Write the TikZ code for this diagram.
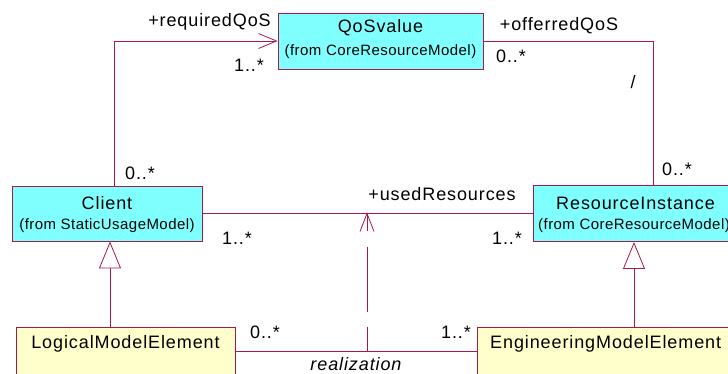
\documentclass[tikz,border=0pt]{standalone}
\usepackage{fontspec}
\setmainfont{Liberation Sans}
\newfontfamily\bigf[LetterSpace=5]{Liberation Sans}
\newfontfamily\smallf[LetterSpace=3]{Liberation Sans}
\usetikzlibrary{arrows.meta}
\definecolor{lnc}{RGB}{168,24,72}
\definecolor{cyanfill}{RGB}{128,255,255}
\definecolor{yelfill}{RGB}{255,255,204}
\tikzset{
  box/.style={draw=lnc,line width=0.9pt,rectangle,inner sep=0pt},
  qbox/.style={box,fill=cyanfill},
  ybox/.style={box,fill=yelfill},
  big/.style={inner sep=0pt,font=\bigf\fontsize{18}{20}\selectfont},
  small/.style={inner sep=0pt,font=\smallf\fontsize{15}{17}\selectfont},
  assoc/.style={draw=lnc,line width=0.8pt},
  navi/.style={assoc,-{Straight Barb[length=18pt,width=15pt,line width=0.8pt]}},
  gen/.style={assoc,-{Triangle[open,length=27pt,width=22pt,line width=0.8pt,fill=white]}},
  real/.style={assoc,dash pattern=on 24pt off 15pt on 65pt off 16pt on 40pt}
}
\begin{document}
\begin{tikzpicture}[x=1pt,y=-1pt]
\useasboundingbox (0,0) rectangle (728,373);
% boxes
\node[qbox,minimum width=205pt,minimum height=56pt] (QoS) at (380.5,41) {};
\node[qbox,minimum width=190pt,minimum height=55pt] (Client) at (107,213.5) {};
\node[qbox,minimum width=205pt,minimum height=56pt] (RI) at (635.5,213.5) {};
\node[ybox,minimum width=219pt,minimum height=48pt] (Logical) at (125.5,351) {};
\node[ybox,minimum width=260pt,minimum height=48pt] (Eng) at (607,351) {};
% box texts
\node[big] (tq1) at (380.5,28) {QoSvalue};
\node[small] (tq2) at (380.5,52) {(from CoreResourceModel)};
\node[big] (tc1) at (107,203) {Client};
\node[small] (tc2) at (107,226) {(from StaticUsageModel)};
\node[big] (tr1) at (635.5,203) {ResourceInstance};
\node[small,anchor=west] (tr2) at (538,226) {(from CoreResourceModel)};
\node[big] (tl1) at (125.5,344) {LogicalModelElement};
\node[big,anchor=west] (te1) at (490,344) {EngineeringModelElement};
% connectors
\draw[navi] ([xshift=7pt]Client.north) |- (QoS.west);
\draw[assoc] (QoS.east) -| ([xshift=17.5pt]RI.north);
\draw[assoc] (Client.east) -- (RI.west);
\draw[assoc] (Logical.east) -- (Eng.west);
\draw[gen] ([xshift=-15.5pt]Logical.north) -- ([xshift=3pt]Client.south);
\draw[gen] ([xshift=27pt]Eng.north) -- ([xshift=-1.5pt]RI.south);
\coordinate (rb) at (367,351);
\coordinate (rt) at (367,213.5);
\draw[real] (rb) -- (rt);
\draw[assoc] ([shift={(-7,18)}]rt) -- (rt) -- ([shift={(7,18)}]rt);
% labels
\node[big] (l1) at (209.5,22) {+requiredQoS};
\node[big] (l2) at (249,65) {1..*};
\node[big] (l3) at (559,26) {+offerredQoS};
\node[big] (l4) at (511,56) {0..*};
\node[big] (l5) at (633,82) {/};
\node[big] (l6) at (677,169) {0..*};
\node[big] (l7) at (140,173) {0..*};
\node[big] (l8) at (442,194) {+usedResources};
\node[big] (l9) at (237,238) {1..*};
\node[big] (l10) at (507,238) {1..*};
\node[big] (l11) at (265,332) {0..*};
\node[big] (l12) at (456,332) {1..*};
\node[big,font=\bigf\fontsize{18}{20}\selectfont\itshape] (l13) at (356,364) {realization};
\end{tikzpicture}
\end{document}
